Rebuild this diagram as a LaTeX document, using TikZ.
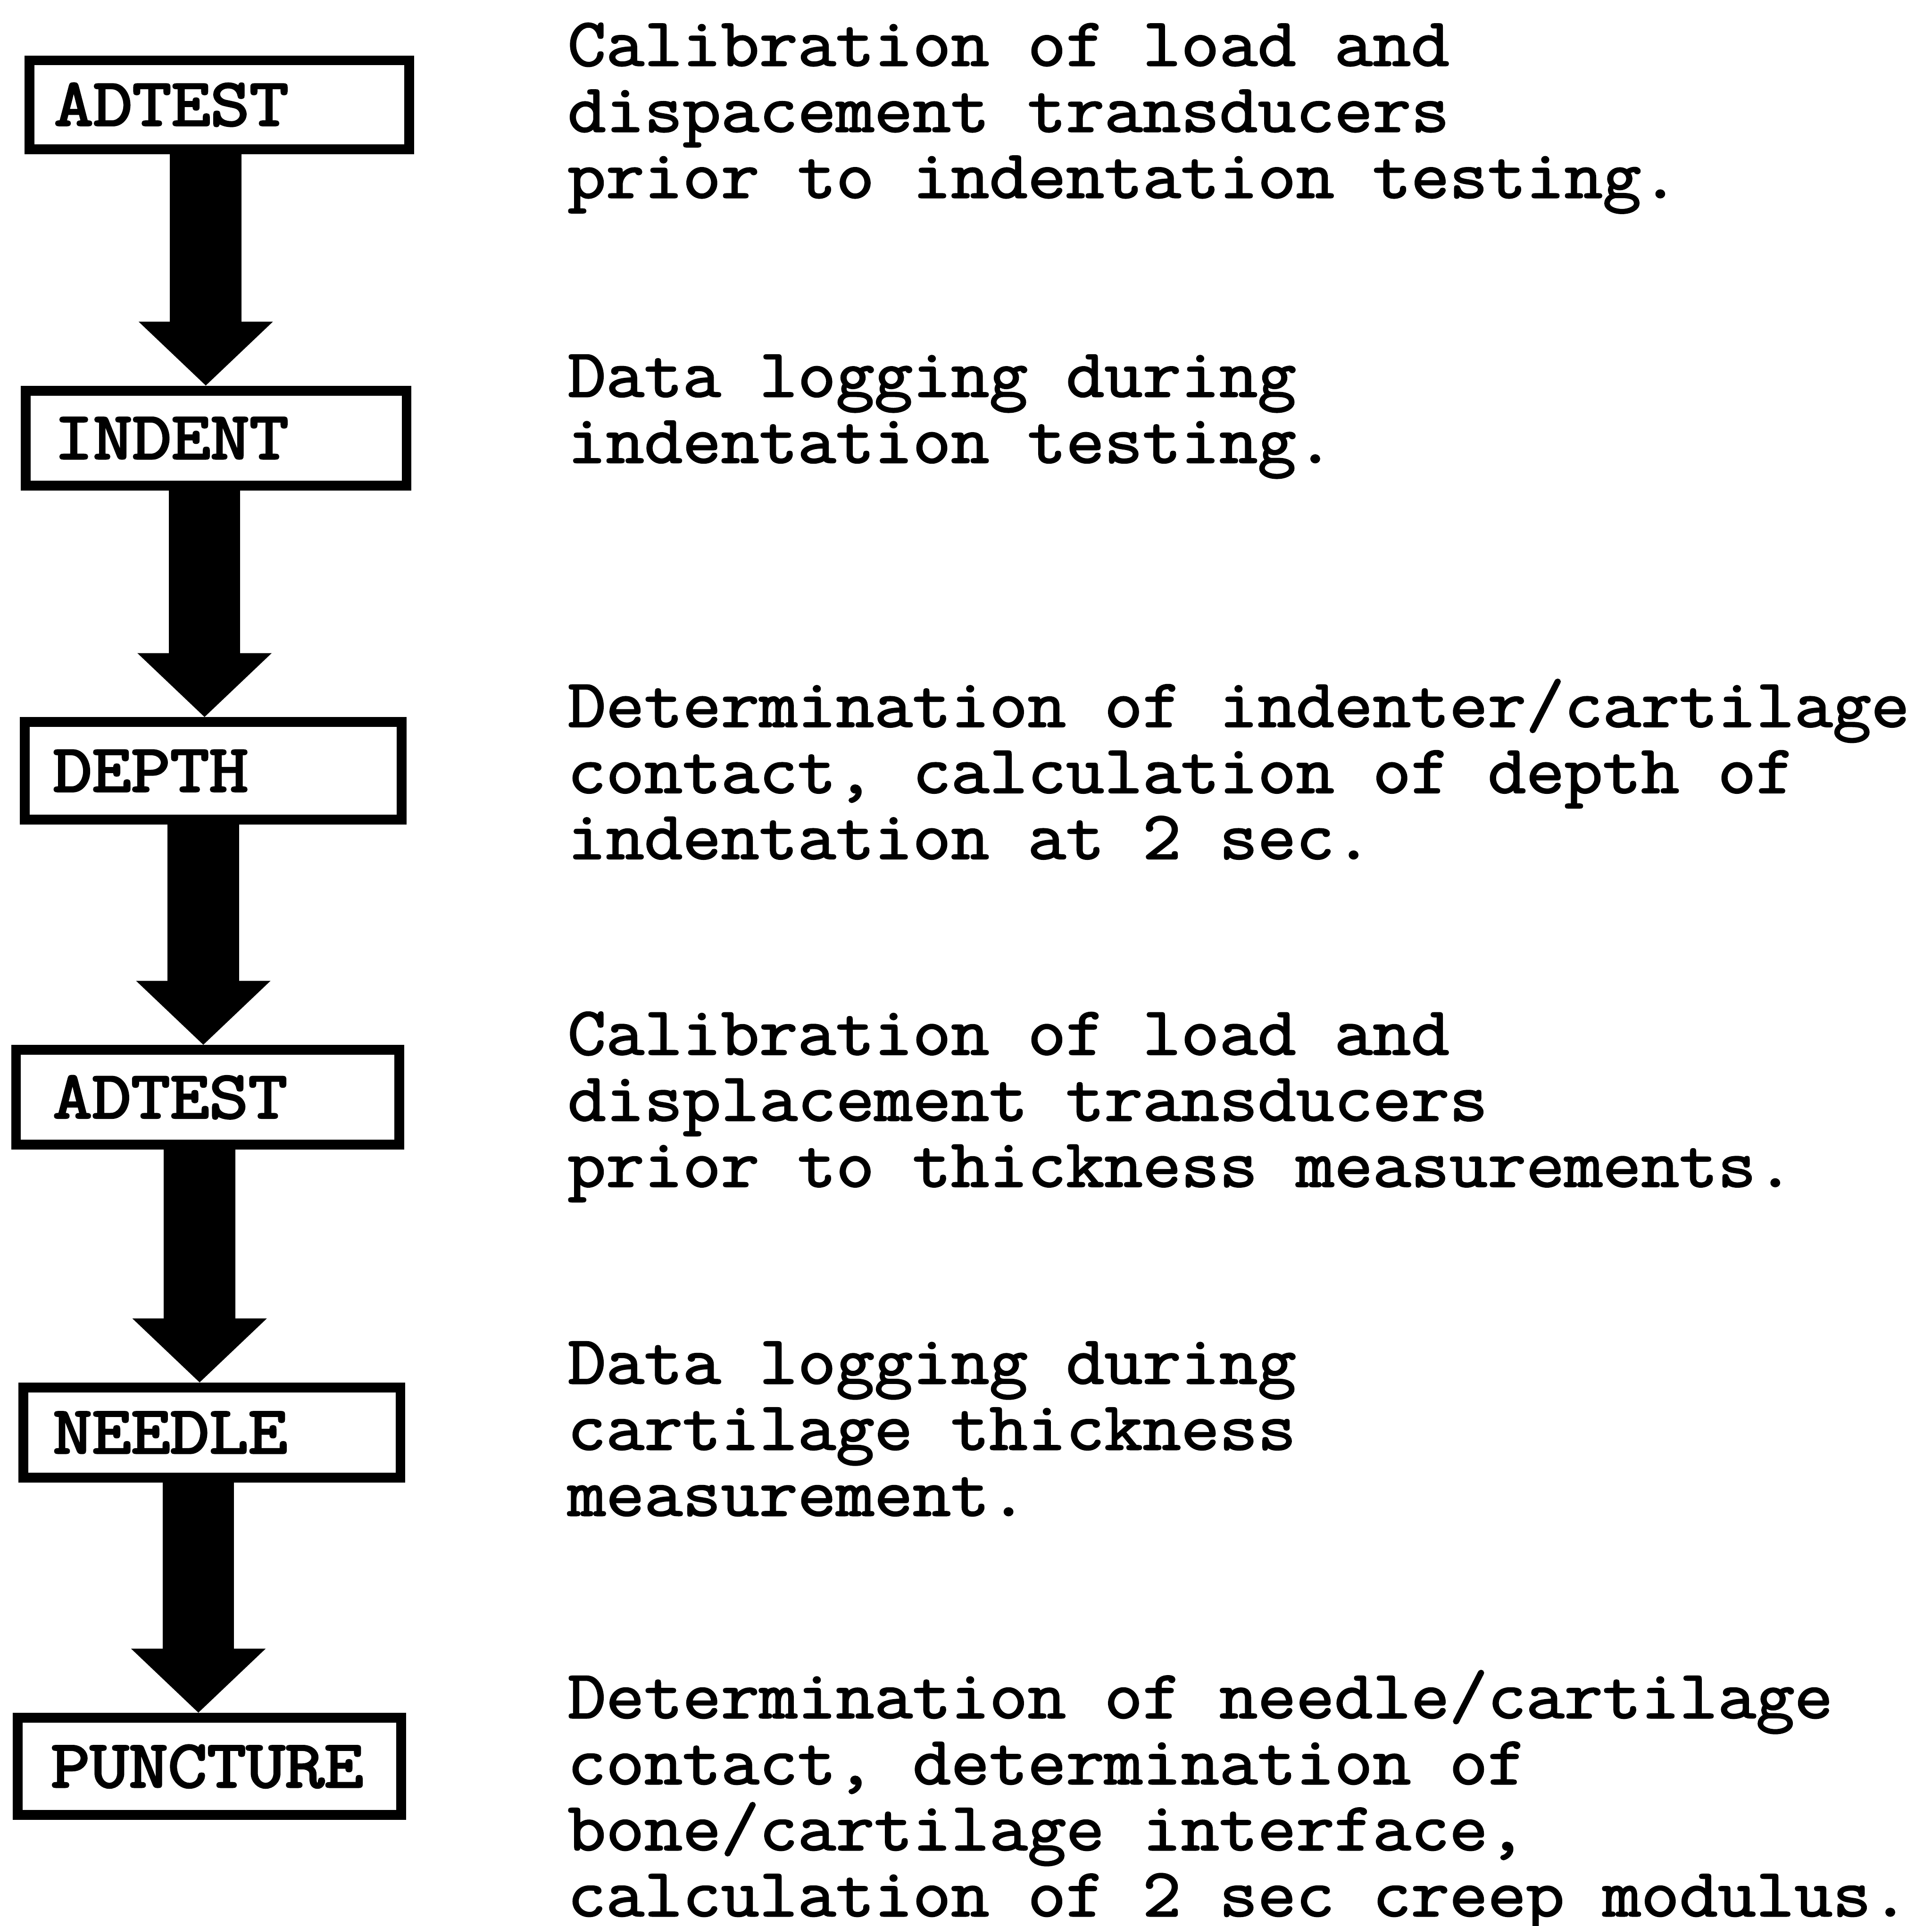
\documentclass[tikz,border=0pt]{standalone}
\usepackage{fontspec}
\usetikzlibrary{arrows.meta}
\newfontfamily\bodyfont[FakeStretch=1.088,FakeBold=2]{Latin Modern Mono}
\newfontfamily\labelfont[FakeStretch=1.13,FakeBold=3.2]{Latin Modern Mono}
\newcommand\mytightlines{\lineskiplimit=-100pt\relax}
\begin{document}
\begin{tikzpicture}[x=0.1mm,y=-0.1mm,
  flowbox/.style={draw, line width=0.8mm, rectangle, inner ysep=0pt, align=left,
    text height=9.5pt, text depth=0pt, font=\labelfont\fontsize{15.5}{18}\selectfont},
  desc/.style={anchor=base west, align=left, inner sep=0pt,
    font=\bodyfont\fontsize{15.8}{15.25}\selectfont\mytightlines},
  bigarrow/.style={line width=5.8mm, -{Triangle[width=10.6mm,length=5.2mm]}}]
\useasboundingbox (0,0) rectangle (1568,1563);

% boxes
\node[flowbox, minimum height=7.2mm, inner xsep=2.0mm, text width=26.8mm] (b1) at (178,85) {ADTEST};
\node[flowbox, minimum height=7.7mm, inner xsep=2.3mm, text width=26.3mm] (b2) at (175.5,355.5) {INDENT};
\node[flowbox, minimum height=7.9mm, inner xsep=2.3mm, text width=26.0mm] (b3) at (173,625.5) {DEPTH};
\node[flowbox, minimum height=7.7mm, inner xsep=3.0mm, text width=25.1mm] (b4) at (168.5,890.5) {ADTEST};
\node[flowbox, minimum height=7.3mm, inner xsep=2.4mm, text width=25.8mm] (b5) at (172,1162.5) {NEEDLE};
\node[flowbox, minimum height=7.9mm, inner xsep=2.7mm, text width=25.75mm] (b6) at (170,1433.5) {PUNCTURE};

% arrow axes
\coordinate (a1) at (167,0);
\coordinate (a2) at (166,0);
\coordinate (a3) at (165,0);
\coordinate (a4) at (162,0);
\coordinate (a5) at (161,0);

\draw[bigarrow] (b1.south -| a1) -- (b2.north -| a1);
\draw[bigarrow] (b2.south -| a2) -- (b3.north -| a2);
\draw[bigarrow] (b3.south -| a3) -- (b4.north -| a3);
\draw[bigarrow] (b4.south -| a4) -- (b5.north -| a4);
\draw[bigarrow] (b5.south -| a5) -- (b6.north -| a5);

% descriptions (anchored at the baseline of the last line)
\node[desc] (t1) at (460,160.5) {Calibration of load and\\dispacement transducers\\prior to indentation testing.};
\node[desc] (t2) at (460,375.5) {Data logging during\\indentation testing.};
\node[desc] (t3) at (460,697) {Determination of indenter/cartilage\\contact, calculation of depth of\\indentation at 2 sec.};
\node[desc] (t4) at (460,963) {Calibration of load and\\displacement transducers\\prior to thickness measurements.};
\node[desc] (t5) at (460,1230) {Data logging during\\cartilage thickness\\measurement.};
\node[desc] (t6) at (460,1555) {Determination of needle/cartilage\\contact, determination of\\bone/cartilage interface,\\calculation of 2 sec creep modulus.};
\end{tikzpicture}
\end{document}
